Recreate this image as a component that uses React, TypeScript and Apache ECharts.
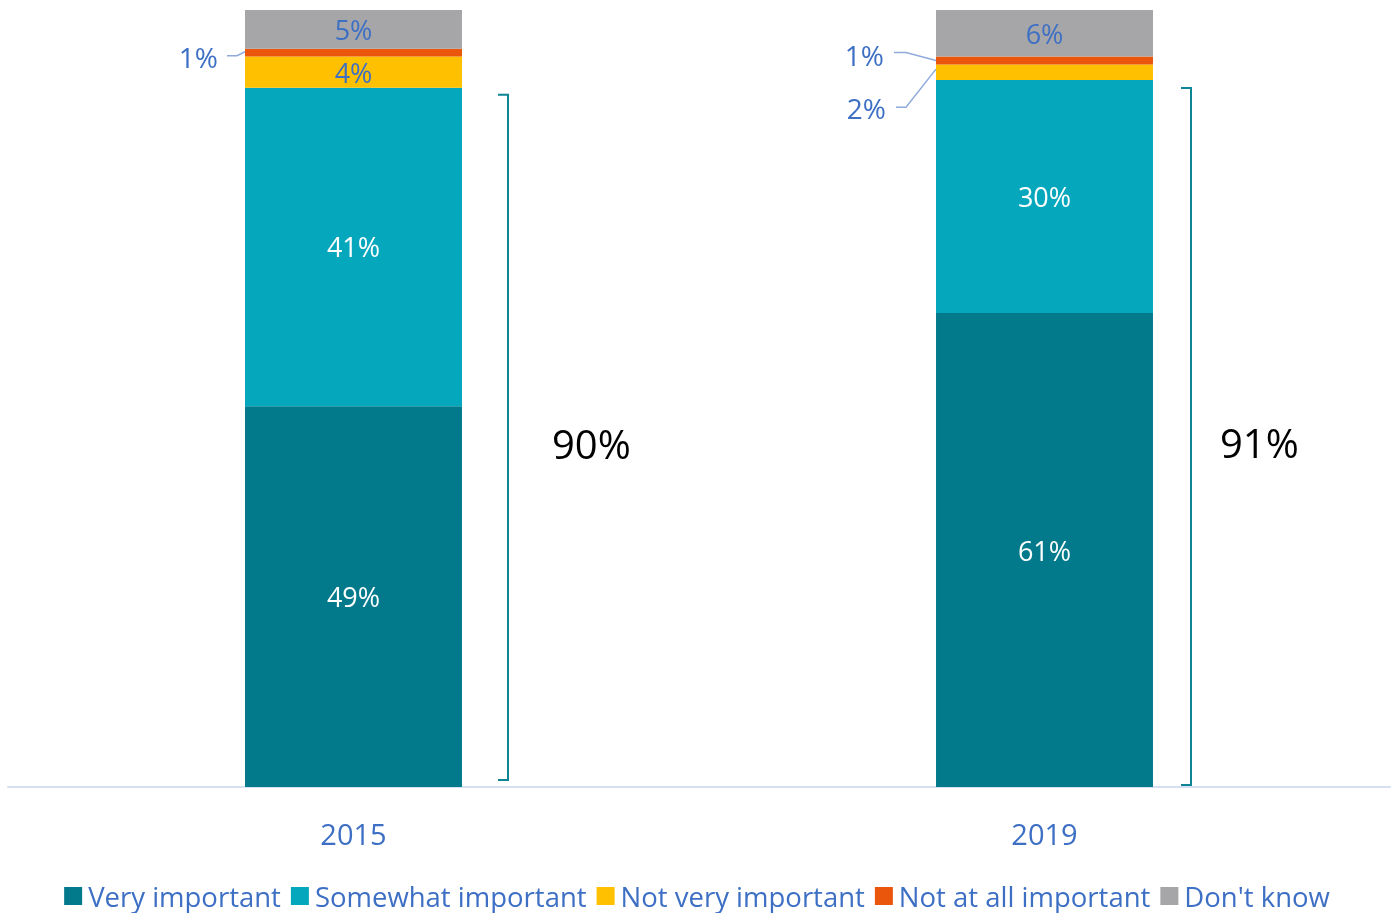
import React, { useEffect, useRef } from "react";
import * as echarts from "echarts";

const categories = ["2015", "2019"];
const seriesNames = ["Very important", "Somewhat important", "Not very important", "Not at all important", "Don't know"];
const veryImportant = [49, 61];
const somewhatImportant = [41, 30];
const notVeryImportant = [4, 2];
const notAtAllImportant = [1, 1];
const dontKnow = [5, 6];
const totals = ["90%", "91%"];

const colors = ["#037A8B", "#05A7BD", "#FFC000", "#EA560B", "#A6A6A9"];
const blue = "#3D6FC4";
const FONT = "Open Sans";

export default function App() {
  const ref = useRef<HTMLDivElement>(null);
  useEffect(() => {
    const chart = echarts.init(ref.current!, null, { renderer: "svg" });
    const allData = [veryImportant, somewhatImportant, notVeryImportant, notAtAllImportant, dontKnow];
    const outside = new Set(["3-0", "3-1", "2-1"]);
    const series = allData.map((arr, si) => ({
      name: seriesNames[si],
      type: "bar",
      stack: "total",
      barWidth: "31.4%",
      itemStyle: { color: colors[si] },
      data: arr.map((v, ci) => ({
        value: v,
        label: {
          show: !outside.has(`${si}-${ci}`),
          position: "inside",
          formatter: "{c}%",
          color: si < 2 ? "#ffffff" : blue,
          fontSize: 27,
          fontFamily: FONT,
        },
      })),
    }));
    chart.setOption({
      animation: false,
      grid: { left: 8, right: 4, top: 10, bottom: 126, containLabel: false },
      legend: {
        top: 876,
        left: "center",
        itemWidth: 18,
        itemHeight: 18,
        itemGap: 10,
        icon: "rect",
        textStyle: { color: blue, fontSize: 27.5, fontFamily: FONT, padding: [0, 0, 0, 1], lineHeight: 30 },
        data: seriesNames,
      },
      xAxis: {
        type: "category",
        data: categories,
        axisLine: { lineStyle: { color: "#D6E0F2", width: 2 } },
        axisTick: { show: false },
        axisLabel: { color: blue, fontSize: 29, fontFamily: FONT, margin: 32 },
      },
      yAxis: { type: "value", min: 0, max: 100, show: false },
      series,
    });

    const px = (ci: number, v: number) => chart.convertToPixel({ xAxisIndex: 0, yAxisIndex: 0 }, [ci, v]) as number[];
    const graphics: any[] = [];
    const barW = 217;
    const bracketOffset = [46, 38];
    const labelOffset = [44, 29];
    const topInset = [7, 8];
    const bottomInset = [7, 2];
    categories.forEach((_, ci) => {
      const sum = veryImportant[ci] + somewhatImportant[ci];
      const [cx, yTop] = px(ci, sum);
      const [, yBot] = px(ci, 0);
      const bx = cx + barW / 2 + bracketOffset[ci];
      const t = yTop + topInset[ci];
      const b = yBot - bottomInset[ci];
      graphics.push({
        type: "polyline",
        shape: { points: [[bx - 10, t], [bx, t], [bx, b], [bx - 10, b]] },
        style: { stroke: "#0E8595", lineWidth: 2, fill: null },
      });
      graphics.push({
        type: "text",
        x: bx + labelOffset[ci],
        y: (t + b) / 2 + 6,
        style: { text: totals[ci], fontSize: 40, fontFamily: FONT, fill: "#000", align: "left", verticalAlign: "middle" },
      });
    });
    const lineColor = "#8FAADC";
    {
      const ci = 0;
      const base = veryImportant[ci] + somewhatImportant[ci] + notVeryImportant[ci];
      const [cx, y] = px(ci, base + notAtAllImportant[ci] / 2);
      const left = cx - barW / 2;
      graphics.push({
        type: "polyline",
        shape: { points: [[left - 18, y + 3], [left - 8, y + 3], [left, y - 1]] },
        style: { stroke: lineColor, lineWidth: 1.5, fill: null },
      });
      graphics.push({
        type: "text",
        x: left - 27,
        y: y + 4,
        style: { text: notAtAllImportant[ci] + "%", fontSize: 28, fontFamily: FONT, fill: blue, align: "right", verticalAlign: "middle" },
      });
    }
    {
      const ci = 1;
      const b1 = veryImportant[ci] + somewhatImportant[ci] + notVeryImportant[ci];
      const [cx, y1] = px(ci, b1 + notAtAllImportant[ci] / 2);
      const left = cx - barW / 2;
      const ly1 = y1 - 8;
      graphics.push({
        type: "polyline",
        shape: { points: [[left - 42, ly1], [left - 30, ly1], [left, y1]] },
        style: { stroke: lineColor, lineWidth: 1.5, fill: null },
      });
      graphics.push({
        type: "text",
        x: left - 52,
        y: ly1 + 2,
        style: { text: notAtAllImportant[ci] + "%", fontSize: 28, fontFamily: FONT, fill: blue, align: "right", verticalAlign: "middle" },
      });
      const b2 = veryImportant[ci] + somewhatImportant[ci];
      const [, y2] = px(ci, b2 + notVeryImportant[ci] / 2);
      const ly2 = y2 + 35;
      graphics.push({
        type: "polyline",
        shape: { points: [[left - 40, ly2], [left - 30, ly2], [left, y2 - 3]] },
        style: { stroke: lineColor, lineWidth: 1.5, fill: null },
      });
      graphics.push({
        type: "text",
        x: left - 50,
        y: ly2 + 1,
        style: { text: notVeryImportant[ci] + "%", fontSize: 28, fontFamily: FONT, fill: blue, align: "right", verticalAlign: "middle" },
      });
    }
    chart.setOption({ graphic: graphics });
    return () => chart.dispose();
  }, []);
  return <div ref={ref} style={{ position: "fixed", left: 0, top: 0, width: 1394, height: 913 }} />;
}
